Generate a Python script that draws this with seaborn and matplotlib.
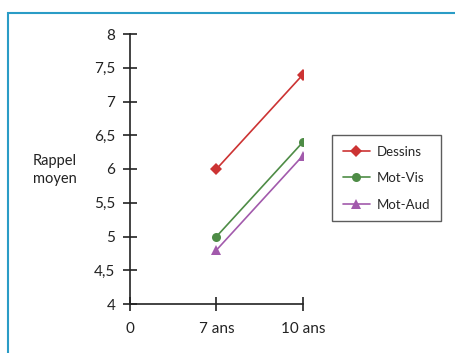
import numpy as np
import pandas as pd
import seaborn as sns
import matplotlib.pyplot as plt
from matplotlib.patches import Rectangle
from matplotlib.ticker import FuncFormatter

# Data
ages = ["7 ans", "10 ans"]
x_pos = [1, 2]
dessins = [6.0, 7.4]
mot_vis = [5.0, 6.4]
mot_aud = [4.8, 6.2]
series = ["Dessins", "Mot-Vis", "Mot-Aud"]
x_labels = ["0", "7 ans", "10 ans"]

colors = {"Dessins": "#cc3333", "Mot-Vis": "#4e8c46", "Mot-Aud": "#a25aac"}
markers = {"Dessins": "D", "Mot-Vis": "o", "Mot-Aud": "^"}

df = pd.DataFrame({
    "x": x_pos * 3,
    "rappel": dessins + mot_vis + mot_aud,
    "groupe": [s for s in series for _ in x_pos],
})

sns.set_style("white")
plt.rcParams["font.family"] = ["Lato", "DejaVu Sans"]

fig = plt.figure(figsize=(4.56, 3.53), dpi=100)
ax = fig.add_axes([130 / 456, 1 - 304 / 353, 173 / 456, 270 / 353])

sns.lineplot(data=df, x="x", y="rappel", hue="groupe", style="groupe",
             palette=colors, markers=markers, dashes=False, markersize=6.5,
             markeredgewidth=0, linewidth=1.2, ax=ax)

ax.set_xlim(0, 2)
ax.set_ylim(4, 8)
ax.set_xticks([0, 1, 2])
ax.set_xticklabels(x_labels)
ax.set_yticks(np.arange(4, 8.01, 0.5))
ax.yaxis.set_major_formatter(FuncFormatter(lambda v, p: f"{v:g}".replace(".", ",")))
ax.set_xlabel("")
ax.set_ylabel("")
sns.despine(ax=ax)
for s in ["left", "bottom"]:
    ax.spines[s].set_color("#222222")
    ax.spines[s].set_linewidth(1.2)
ax.tick_params(axis="both", direction="inout", length=10, width=1.2,
               color="#222222", labelsize=11, labelcolor="#222222")
ax.tick_params(axis="y", pad=5.5, left=True)
ax.tick_params(axis="x", pad=8, bottom=True)

handles, labels = ax.get_legend_handles_labels()
leg = ax.legend(handles, labels, loc="upper left", bbox_to_anchor=(332 / 456, 1 - 135 / 353),
                bbox_transform=fig.transFigure, borderaxespad=0, frameon=True,
                fancybox=False, edgecolor="#333333", fontsize=9.5,
                handlelength=2.1, handletextpad=0.5, labelspacing=1.1,
                borderpad=0.8)
leg.get_frame().set_linewidth(1.0)

fig.text(33 / 456, 1 - 170 / 353, "Rappel\nmoyen", ha="left", va="center",
         fontsize=10.5, color="#222222", linespacing=1.4)

# teal frame
fig.patches.append(Rectangle((8 / 456, -0.1), 1.2, 1 - 13 / 353 + 0.1,
                             transform=fig.transFigure, fill=False,
                             edgecolor="#2a9cc6", linewidth=1.5, clip_on=False))

fig.savefig("out.png", dpi=100)
